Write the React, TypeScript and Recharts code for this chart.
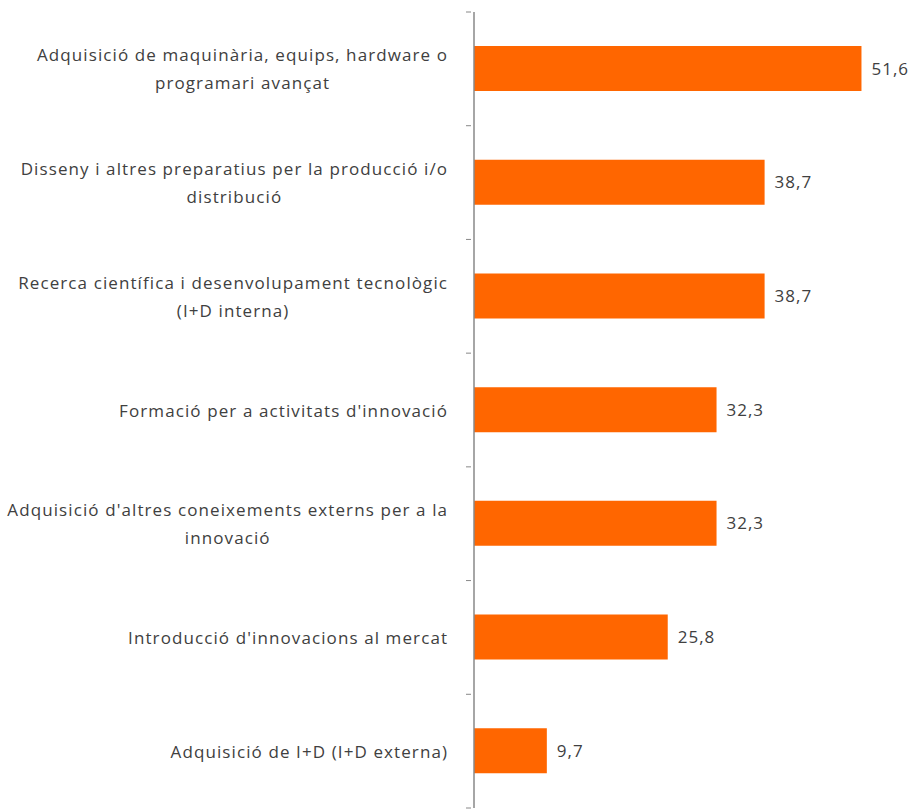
import React from 'react';
import { BarChart, Bar, XAxis, YAxis, LabelList } from 'recharts';

const categories: string[][] = [
  ['Adquisició de maquinària, equips, hardware o', 'programari avançat'],
  ['Disseny i altres preparatius per la producció i/o', 'distribució'],
  ['Recerca científica i desenvolupament tecnològic', '(I+D interna)'],
  ["Formació per a activitats d'innovació"],
  ["Adquisició d'altres coneixements externs per a la", 'innovació'],
  ["Introducció d'innovacions al mercat"],
  ['Adquisició de I+D (I+D externa)'],
];
const values: number[] = [51.6, 38.7, 38.7, 32.3, 32.3, 25.8, 9.7];

const data = categories.map((c, i) => ({ name: c.join('\n'), value: values[i] }));

const FONT = '"Open Sans", "Noto Sans", sans-serif';
const FONT_SIZE = 17;
const LETTER_SPACING = 1.1;
const TEXT_COLOR = '#404040';

let ctx: CanvasRenderingContext2D | null = null;
function measure(t: string): number {
  if (!ctx) {
    const c = document.createElement('canvas');
    ctx = c.getContext('2d');
  }
  if (!ctx) return t.length * 9;
  ctx.font = `${FONT_SIZE}px "Open Sans"`;
  return ctx.measureText(t).width + LETTER_SPACING * (t.length - 1);
}

const CustomTick = (props: any) => {
  const { x, y, payload, index, visibleTicksCount } = props;
  const lines: string[] = String(payload.value).split('\n');
  const half = payload.offset || 56.85;
  const maxW = Math.max(...lines.map(measure));
  const rightEdge = x - 19;
  const cx = rightEdge - maxW / 2;
  const lh = 28;
  const startY = y - ((lines.length - 1) * lh) / 2;
  const axisX = x + 5;
  return (
    <g>
      <line x1={axisX - 5} x2={axisX} y1={y - half} y2={y - half} stroke="#888" strokeWidth={1} />
      {index === visibleTicksCount - 1 && (
        <line x1={axisX - 5} x2={axisX} y1={y + half} y2={y + half} stroke="#888" strokeWidth={1} />
      )}
      {lines.map((l, i) => (
        <text
          key={i}
          x={cx + LETTER_SPACING / 2}
          y={startY + i * lh}
          textAnchor="middle"
          dominantBaseline="central"
          fontFamily={FONT}
          fontSize={FONT_SIZE}
          letterSpacing={LETTER_SPACING}
          fill={TEXT_COLOR}
        >
          {l}
        </text>
      ))}
    </g>
  );
};

export default function App() {
  return (
    <div style={{ position: 'absolute', left: 0, top: 0, background: '#fff' }}>
      <BarChart
        width={916}
        height={812}
        data={data}
        layout="vertical"
        margin={{ top: 12, right: 29, bottom: 4, left: 0 }}
        barSize={45}
      >
        <XAxis type="number" domain={[0, 55]} hide />
        <YAxis
          type="category"
          dataKey="name"
          width={474}
          axisLine={{ stroke: '#888', strokeWidth: 1.5 }}
          tickLine={false}
          tick={<CustomTick />}
          interval={0}
        />
        <Bar dataKey="value" fill="#FF6600" isAnimationActive={false}>
          <LabelList
            dataKey="value"
            position="right"
            offset={10}
            formatter={(v: any) => String(v).replace('.', ',')}
            style={{ fontFamily: FONT, fontSize: FONT_SIZE, fill: TEXT_COLOR, letterSpacing: 1 }}
          />
        </Bar>
      </BarChart>
    </div>
  );
}
